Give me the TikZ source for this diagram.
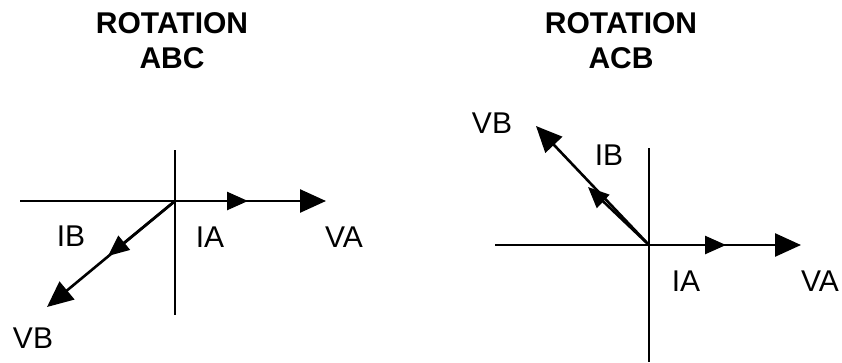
\documentclass[tikz,border=0pt]{standalone}
\usepackage{fontspec}
\setmainfont{Liberation Sans}
\usetikzlibrary{arrows.meta}
\begin{document}
\begin{tikzpicture}[x=1pt,y=-1pt,
  axis/.style={line width=2pt},
  vec/.style={line width=2.6pt,-{Triangle[length=26pt,width=23pt]}},
  ivec/.style={line width=2.6pt,-{Triangle[length=21pt,width=18pt]}},
  title/.style={font=\fontsize{30}{35}\selectfont\bfseries,align=center},
  lbl/.style={font=\fontsize{30}{32}\selectfont}]
\useasboundingbox (0,0) rectangle (842,362);
% left diagram
\node[title] (t1) at (172,41) {ROTATION\\ABC};
\coordinate (o1) at (175,201);
\coordinate (v1top) at (175,150);
\coordinate (v1bot) at (175,315);
\coordinate (h1left) at (20,201);
\coordinate (va1) at (326,201);
\coordinate (ia1) at (248,201);
\coordinate (vb1) at (47,307);
\coordinate (ib1) at (108,256);
\draw[axis] (v1top) -- (v1bot);
\draw[axis] (h1left) -- (o1);
\draw[vec] (o1) -- (va1);
\draw[ivec] (o1) -- (ia1);
\draw[vec] (o1) -- (vb1);
\draw[ivec] (o1) -- (ib1);
\node[lbl] (lib1) at (71,236) {IB};
\node[lbl] (lia1) at (210,237) {IA};
\node[lbl] (lva1) at (344,237) {VA};
\node[lbl] (lvb1) at (33,338) {VB};
% right diagram
\node[title] (t2) at (621,41) {ROTATION\\ACB};
\coordinate (o2) at (649,245);
\coordinate (v2top) at (649,148);
\coordinate (v2bot) at (649,362);
\coordinate (h2left) at (495,245);
\coordinate (va2) at (801,245);
\coordinate (ia2) at (726,245);
\coordinate (vb2) at (536,126);
\coordinate (ib2) at (588,187);
\draw[axis] (v2top) -- (v2bot);
\draw[axis] (h2left) -- (o2);
\draw[vec] (o2) -- (va2);
\draw[ivec] (o2) -- (ia2);
\draw[vec] (o2) -- (vb2);
\draw[ivec] (o2) -- (ib2);
\node[lbl] (lvb2) at (492,123) {VB};
\node[lbl] (lib2) at (609,155) {IB};
\node[lbl] (lia2) at (686,281) {IA};
\node[lbl] (lva2) at (820,281) {VA};
\end{tikzpicture}
\end{document}
